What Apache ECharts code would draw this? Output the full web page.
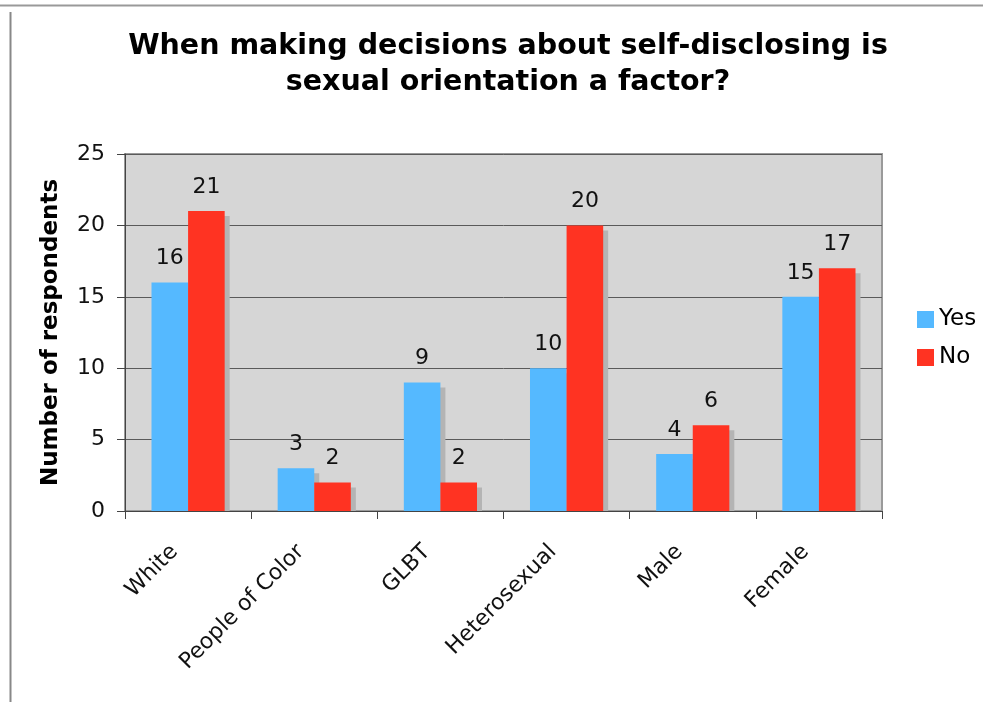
<!DOCTYPE html>
<html>
<head>
<meta charset="utf-8">
<script src="https://cdn.jsdelivr.net/npm/echarts@6.0.0/dist/echarts.min.js"></script>
<style>
  html, body { margin: 0; padding: 0; background: #fff; }
  #chart { width: 983px; height: 702px; }
</style>
</head>
<body>
<div id="chart"></div>
<script>
const categories = ["White", "People of Color", "GLBT", "Heterosexual", "Male", "Female"];
const yesValues = [16, 3, 9, 10, 4, 15];
const noValues = [21, 2, 2, 20, 6, 17];
const yTicks = { min: 0, max: 25, interval: 5 };

const BAR_RATIO = 0.29; // bar width as share of a category band
const FONT = "DejaVu Sans, Verdana, sans-serif";

const chart = echarts.init(document.getElementById("chart"), null, { renderer: "canvas" });

// drop shadows sit behind each bar, offset right and down, clipped to the grid
const shadowData = categories.map((c, i) => [i, yesValues[i], noValues[i]]);

const renderShadow = (params, api) => {
  const idx = api.value(0);
  const base = api.coord([idx, 0]);
  const w = api.size([1, 0])[0] * BAR_RATIO;
  const children = [api.value(1), api.value(2)].map((v, k) => {
    const top = api.coord([idx, v]);
    return {
      type: "rect",
      shape: { x: base[0] - w + k * w + 5, y: top[1] + 5, width: w, height: base[1] - top[1] - 5 },
      style: { fill: "#b4b4b4" },
    };
  });
  return { type: "group", children };
};

const labelStyle = { show: true, position: "top", distance: 13, fontSize: 22, color: "#111", fontFamily: FONT };

chart.setOption({
  animation: false,
  title: {
    text: "When making decisions about self-disclosing is\nsexual orientation a factor?",
    left: 503,
    textAlign: "center",
    top: 24,
    textStyle: { fontSize: 28.5, fontWeight: "bold", color: "#000", fontFamily: FONT, lineHeight: 36 },
  },
  graphic: [
    { type: "line", shape: { x1: 0, y1: 5.5, x2: 983, y2: 5.5 }, style: { stroke: "#999", lineWidth: 2 } },
    { type: "line", shape: { x1: 10.5, y1: 12, x2: 10.5, y2: 702 }, style: { stroke: "#888", lineWidth: 2 } },
  ],
  legend: {
    data: ["Yes", "No"],
    orient: "vertical",
    left: 912,
    top: 303,
    itemWidth: 17,
    itemHeight: 17,
    itemGap: 15,
    icon: "rect",
    textStyle: { fontSize: 23, color: "#000", fontFamily: FONT },
  },
  grid: {
    left: 125,
    right: 101,
    top: 154,
    bottom: 191,
    show: true,
    backgroundColor: "#d6d6d6",
    borderColor: "#9a9a9a",
    borderWidth: 2,
  },
  xAxis: {
    type: "category",
    data: categories,
    axisLine: { lineStyle: { color: "#444", width: 1 } },
    axisTick: { show: true, interval: 0, length: 8, alignWithLabel: false, lineStyle: { color: "#444" } },
    axisLabel: {
      interval: 0,
      rotate: 45,
      fontSize: 22,
      margin: 24,
      padding: [0, 19, 0, 0],
      color: "#111",
      fontFamily: FONT,
    },
  },
  yAxis: {
    type: "value",
    min: yTicks.min,
    max: yTicks.max,
    interval: yTicks.interval,
    name: "Number of respondents",
    nameLocation: "middle",
    nameGap: 62,
    nameTextStyle: { fontSize: 23, fontWeight: "bold", color: "#000", fontFamily: FONT },
    axisLine: { show: true, lineStyle: { color: "#444", width: 1 } },
    axisTick: { show: true, length: 8, lineStyle: { color: "#444" } },
    axisLabel: { fontSize: 22, margin: 20, color: "#111", fontFamily: FONT },
    splitLine: { show: true, lineStyle: { color: "#5a5a5a", width: 1 } },
  },
  series: [
    {
      type: "custom",
      name: "shadow",
      data: shadowData,
      encode: { x: 0, y: [1, 2] },
      renderItem: renderShadow,
      clip: true,
      z: 1,
      silent: true,
    },
    {
      type: "bar",
      name: "Yes",
      data: yesValues,
      barWidth: BAR_RATIO * 100 + "%",
      barGap: "0%",
      itemStyle: { color: "#55b9ff" },
      label: labelStyle,
      z: 2,
    },
    {
      type: "bar",
      name: "No",
      data: noValues,
      barWidth: BAR_RATIO * 100 + "%",
      barGap: "0%",
      itemStyle: { color: "#ff3322" },
      label: labelStyle,
      z: 2,
    },
  ],
});

window.addEventListener("resize", chart.resize);
</script>
</body>
</html>
